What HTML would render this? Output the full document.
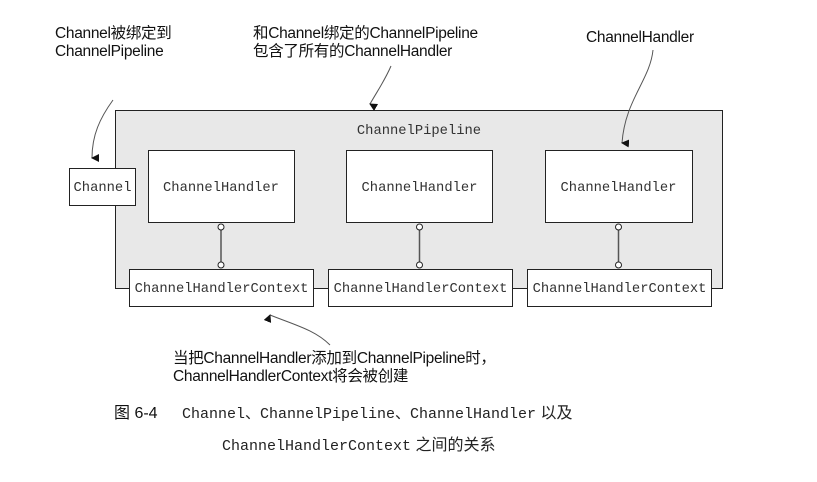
<!DOCTYPE html>
<html><head><meta charset="utf-8"><style>
body{margin:0;background:#fff;width:817px;height:477px;overflow:hidden}
.s{font-family:"Liberation Sans","Noto Sans CJK SC",sans-serif;font-size:15.5px;fill:#111;letter-spacing:-0.3px}
.m{font-family:"Liberation Mono",monospace;font-size:13.8px;fill:#333}
</style></head><body>
<svg width="817" height="477" viewBox="0 0 817 477">
<defs><marker id="a" markerWidth="8" markerHeight="8" refX="4" refY="7" orient="auto" markerUnits="userSpaceOnUse"><path d="M0,0 L8,0 L4,8 z" fill="#111"/></marker></defs>
<rect x="115.5" y="110.5" width="607" height="178" fill="#e8e8e8" stroke="#222"/>
<text class="m" x="419" y="134" text-anchor="middle">ChannelPipeline</text>
<rect x="69.5" y="168.5" width="66" height="37" fill="#fff" stroke="#222"/>
<text class="m" x="102.5" y="191" text-anchor="middle">Channel</text>
<g fill="#fff" stroke="#222">
<rect x="148.5" y="150.5" width="146" height="72"/>
<rect x="346.5" y="150.5" width="146" height="72"/>
<rect x="545.5" y="150.5" width="147" height="72"/>
<line x1="313" y1="288.5" x2="328" y2="288.5"/>
<line x1="512" y1="288.5" x2="527" y2="288.5"/>
<rect x="129.5" y="269.5" width="184" height="37"/>
<rect x="328.5" y="269.5" width="184" height="37"/>
<rect x="527.5" y="269.5" width="184" height="37"/>
<line x1="221" y1="230" x2="221" y2="262" stroke="#555" stroke-width="1.5"/>
<line x1="419.5" y1="230" x2="419.5" y2="262" stroke="#555" stroke-width="1.5"/>
<line x1="618.5" y1="230" x2="618.5" y2="262" stroke="#555" stroke-width="1.5"/>
<circle cx="221" cy="227" r="3"/><circle cx="221" cy="265" r="3"/>
<circle cx="419.5" cy="227" r="3"/><circle cx="419.5" cy="265" r="3"/>
<circle cx="618.5" cy="227" r="3"/><circle cx="618.5" cy="265" r="3"/>
</g>
<g class="m" text-anchor="middle">
<text x="221" y="191">ChannelHandler</text>
<text x="419.5" y="191">ChannelHandler</text>
<text x="618.5" y="191">ChannelHandler</text>
<text x="221.5" y="292">ChannelHandlerContext</text>
<text x="420.5" y="292">ChannelHandlerContext</text>
<text x="619.5" y="292">ChannelHandlerContext</text>
</g>
<g fill="none" stroke="#555" stroke-width="1">
<path d="M113,100 C100,118 92,135 92,158" marker-end="url(#a)"/>
<path d="M391,66 C385,80 378,90 370,104" marker-end="url(#a)"/>
<path d="M653,50 C650,80 625,100 622,143" marker-end="url(#a)"/>
<path d="M330,345 C315,330 295,325 270,315" marker-end="url(#a)"/>
</g>
<text class="s" x="55" y="38">Channel被绑定到</text>
<text class="s" x="55" y="56">ChannelPipeline</text>
<text class="s" x="253" y="38">和Channel绑定的ChannelPipeline</text>
<text class="s" x="253" y="56">包含了所有的ChannelHandler</text>
<text class="s" x="586" y="42">ChannelHandler</text>
<text class="s" x="173" y="363">当把ChannelHandler添加到ChannelPipeline时，</text>
<text class="s" x="173" y="381">ChannelHandlerContext将会被创建</text>
<text x="114" y="418" font-family="'Liberation Sans','Noto Sans CJK SC',sans-serif" font-size="16" fill="#111">图 6-4</text>
<text x="182" y="418" font-family="'Liberation Mono','Noto Sans CJK SC',monospace" font-size="15" fill="#222">Channel、ChannelPipeline、ChannelHandler<tspan font-family="'Liberation Sans','Noto Sans CJK SC',sans-serif" font-size="16"> 以及</tspan></text>
<text x="222" y="450" font-family="'Liberation Mono','Noto Sans CJK SC',monospace" font-size="15" fill="#222">ChannelHandlerContext<tspan font-family="'Liberation Sans','Noto Sans CJK SC',sans-serif" font-size="16"> 之间的关系</tspan></text>
</svg>
</body></html>
